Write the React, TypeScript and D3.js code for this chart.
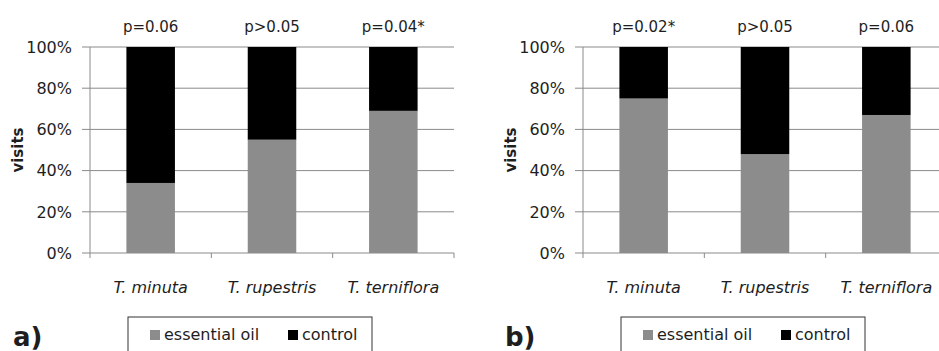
import React from "react";
import * as d3 from "d3";

const categories = ["T. minuta", "T. rupestris", "T. terniflora"];
const oilA = [34, 55, 69];
const oilB = [75, 48, 67];
const pLabelsA = ["p=0.06", "p>0.05", "p=0.04*"];
const pLabelsB = ["p=0.02*", "p>0.05", "p=0.06"];
const yTicks = [0, 20, 40, 60, 80, 100];
const seriesNames = ["essential oil", "control"];
const seriesColors = ["#8c8c8c", "#000000"];

const W = 939;
const H = 351;
const FONT = "'DejaVu Sans', sans-serif";
const TEXT = "#1e1e1e";
const GRID = "#8a8a8a";

type PanelProps = {
  x0: number;
  oil: number[];
  pLabels: string[];
  tag: string;
  tagX: number;
  legendX: number;
};

function Panel({ x0, oil, pLabels, tag, tagX, legendX }: PanelProps) {
  const plotW = 364;
  const top = 47;
  const bottom = 253;

  const x = d3.scaleBand<string>().domain(categories).range([x0, x0 + plotW]).padding(0);
  const y = d3.scaleLinear().domain([0, 100]).range([bottom, top]);
  const barW = x.bandwidth() * 0.4;

  // stack essential oil + control (= remainder to 100%)
  const rows = categories.map((c, i) => ({ cat: c, oil: oil[i], control: 100 - oil[i] }));
  const stacked = d3.stack<any>().keys(["oil", "control"])(rows);

  const tickEdges = [...categories.map((c) => x(c)!), x0 + plotW];

  return (
    <g>
      {/* gridlines */}
      {yTicks.map((t) => (
        <line key={t} x1={x0 - 8} x2={x0 + plotW} y1={y(t)} y2={y(t)} stroke={GRID} strokeWidth={1} />
      ))}
      {/* y axis line */}
      <line x1={x0} x2={x0} y1={top} y2={bottom} stroke={GRID} strokeWidth={1} />
      {/* x ticks */}
      {tickEdges.map((tx, i) => (
        <line key={i} x1={tx} x2={tx} y1={bottom} y2={bottom + 5} stroke={GRID} strokeWidth={1} />
      ))}
      {/* bars */}
      {stacked.map((s, si) =>
        s.map((d, i) => (
          <rect
            key={si + "-" + i}
            x={x(categories[i])! + (x.bandwidth() - barW) / 2}
            y={y(d[1])}
            width={barW}
            height={y(d[0]) - y(d[1])}
            fill={seriesColors[si]}
          />
        ))
      )}
      {/* y tick labels */}
      {yTicks.map((t) => (
        <text key={t} x={x0 - 18} y={y(t)} dy="0.36em" textAnchor="end" fontFamily={FONT} fontSize={16} fill={TEXT}>
          {t + "%"}
        </text>
      ))}
      {/* axis title */}
      <text
        transform={`translate(${x0 - 72},${(top + bottom) / 2}) rotate(-90)`}
        textAnchor="middle"
        dy="0.35em"
        fontFamily={FONT}
        fontSize={15}
        fontWeight="bold"
        fill={TEXT}
      >
        visits
      </text>
      {/* category labels */}
      {categories.map((c) => (
        <text key={c} x={x(c)! + x.bandwidth() / 2} y={293} textAnchor="middle" fontFamily={FONT} fontSize={16} fontStyle="italic" fill={TEXT}>
          {c}
        </text>
      ))}
      {/* p-values */}
      {pLabels.map((p, i) => (
        <text key={i} x={x(categories[i])! + x.bandwidth() / 2} y={32} textAnchor="middle" fontFamily={FONT} fontSize={15} fill={TEXT}>
          {p}
        </text>
      ))}
      {/* panel tag */}
      <text x={tagX} y={346} fontFamily={FONT} fontSize={26} fontWeight="bold" fill={TEXT}>
        {tag}
      </text>
      {/* legend */}
      <rect x={legendX} y={317} width={244} height={50} fill="white" stroke="#333" strokeWidth={1} />
      {seriesNames.map((n, i) => {
        const lx = legendX + (i === 0 ? 22 : 160);
        return (
          <g key={n}>
            <rect x={lx} y={330} width={10} height={10} fill={seriesColors[i]} />
            <text x={lx + 14} y={340} fontFamily={FONT} fontSize={16} fill={TEXT}>
              {n}
            </text>
          </g>
        );
      })}
    </g>
  );
}

export default function App() {
  return (
    <svg
      width={W}
      height={H}
      style={{ position: "fixed", left: 0, top: 0, background: "white" }}
    >
      <rect width={W} height={H} fill="white" />
      <Panel x0={90} oil={oilA} pLabels={pLabelsA} tag="a)" tagX={13} legendX={128} />
      <Panel x0={583} oil={oilB} pLabels={pLabelsB} tag="b)" tagX={505} legendX={621} />
    </svg>
  );
}
